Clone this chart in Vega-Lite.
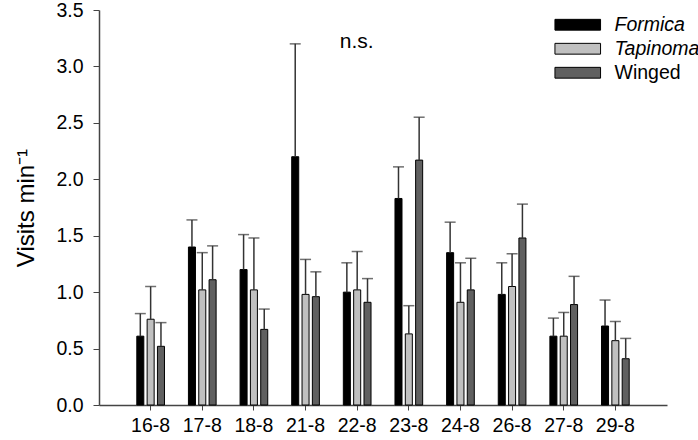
{
  "$schema": "https://vega.github.io/schema/vega-lite/v6.json",
  "width": 568,
  "height": 395,
  "autosize": {"type": "none"},
  "padding": {"left": 99, "top": 10, "right": 31, "bottom": 35},
  "background": "white",
  "config": {
    "view": {"stroke": null},
    "font": "Liberation Sans",
    "axis": {"labelFont": "Liberation Sans", "titleFont": "Liberation Sans", "labelColor": "black", "titleColor": "black", "domainColor": "#444", "tickColor": "#444", "grid": false, "titleFontWeight": "normal"}
  },
  "data": {
    "values": [
      {"date": "16-8", "group": "Formica", "value": 0.61, "upper": 0.81},
      {"date": "16-8", "group": "Tapinoma", "value": 0.76, "upper": 1.05},
      {"date": "16-8", "group": "Winged", "value": 0.52, "upper": 0.73},
      {"date": "17-8", "group": "Formica", "value": 1.40, "upper": 1.64},
      {"date": "17-8", "group": "Tapinoma", "value": 1.02, "upper": 1.35},
      {"date": "17-8", "group": "Winged", "value": 1.11, "upper": 1.41},
      {"date": "18-8", "group": "Formica", "value": 1.20, "upper": 1.51},
      {"date": "18-8", "group": "Tapinoma", "value": 1.02, "upper": 1.48},
      {"date": "18-8", "group": "Winged", "value": 0.67, "upper": 0.85},
      {"date": "21-8", "group": "Formica", "value": 2.20, "upper": 3.20},
      {"date": "21-8", "group": "Tapinoma", "value": 0.98, "upper": 1.29},
      {"date": "21-8", "group": "Winged", "value": 0.96, "upper": 1.18},
      {"date": "22-8", "group": "Formica", "value": 1.00, "upper": 1.26},
      {"date": "22-8", "group": "Tapinoma", "value": 1.02, "upper": 1.36},
      {"date": "22-8", "group": "Winged", "value": 0.91, "upper": 1.12},
      {"date": "23-8", "group": "Formica", "value": 1.83, "upper": 2.11},
      {"date": "23-8", "group": "Tapinoma", "value": 0.63, "upper": 0.88},
      {"date": "23-8", "group": "Winged", "value": 2.17, "upper": 2.55},
      {"date": "24-8", "group": "Formica", "value": 1.35, "upper": 1.62},
      {"date": "24-8", "group": "Tapinoma", "value": 0.91, "upper": 1.26},
      {"date": "24-8", "group": "Winged", "value": 1.02, "upper": 1.30},
      {"date": "26-8", "group": "Formica", "value": 0.98, "upper": 1.26},
      {"date": "26-8", "group": "Tapinoma", "value": 1.05, "upper": 1.34},
      {"date": "26-8", "group": "Winged", "value": 1.48, "upper": 1.78},
      {"date": "27-8", "group": "Formica", "value": 0.61, "upper": 0.77},
      {"date": "27-8", "group": "Tapinoma", "value": 0.61, "upper": 0.82},
      {"date": "27-8", "group": "Winged", "value": 0.89, "upper": 1.14},
      {"date": "29-8", "group": "Formica", "value": 0.70, "upper": 0.93},
      {"date": "29-8", "group": "Tapinoma", "value": 0.57, "upper": 0.74},
      {"date": "29-8", "group": "Winged", "value": 0.41, "upper": 0.59}
    ]
  },
  "encoding": {
    "x": {
      "field": "date", "type": "nominal", "sort": null,
      "scale": {"paddingInner": 0.4, "paddingOuter": 0.7},
      "axis": {"title": null, "labelAngle": 0, "labelFontSize": 19.5, "tickSize": 5, "labelPadding": 6, "domainWidth": 1.5}
    },
    "xOffset": {
      "field": "group", "type": "nominal",
      "scale": {"paddingInner": 0.32, "paddingOuter": 0.16}
    }
  },
  "layer": [
    {
      "mark": {"type": "bar", "stroke": "black", "strokeWidth": 1},
      "encoding": {
        "y": {
          "field": "value", "type": "quantitative",
          "scale": {"domain": [0, 3.5], "nice": false},
          "axis": {"title": "Visits min⁻¹", "titleFontSize": 24, "titlePadding": 17, "labelFontSize": 19.5, "format": ".1f", "values": [0, 0.5, 1, 1.5, 2, 2.5, 3, 3.5], "tickSize": 6, "labelPadding": 10, "domainWidth": 1.5}
        },
        "fill": {
          "field": "group", "type": "nominal",
          "scale": {"domain": ["Formica", "Tapinoma", "Winged"], "range": ["#000000", "#c0c0c0", "#606060"]},
          "legend": {
            "title": null, "orient": "none", "legendX": 469, "legendY": 5,
            "padding": 0,
            "symbolType": "M-3.8,-0.9H3.8V0.9H-3.8Z",
            "symbolSize": 144,
            "symbolStrokeColor": "black",
            "symbolStrokeWidth": 1,
            "symbolOpacity": 1,
            "labelOffset": 27,
            "labelFontSize": 19.5,
            "labelFont": "Liberation Sans",
            "labelColor": "black",
            "rowPadding": 3,
            "encode": {
              "labels": {"update": {"fontStyle": {"signal": "datum.value === 'Winged' ? 'normal' : 'italic'"}}},
              "symbols": {"update": {"stroke": {"value": "black"}, "strokeWidth": {"value": 1}}}
            }
          }
        }
      }
    },
    {
      "mark": {"type": "rule", "color": "#333", "strokeWidth": 1.5},
      "encoding": {
        "y": {"field": "value", "type": "quantitative"},
        "y2": {"field": "upper"}
      }
    },
    {
      "mark": {"type": "tick", "color": "#333", "thickness": 1.5, "size": 11},
      "encoding": {
        "y": {"field": "upper", "type": "quantitative"}
      }
    },
    {
      "data": {"values": [{"label": "n.s.", "d": "22-8", "v": 3.22}]},
      "mark": {"type": "text", "fontSize": 21, "font": "Liberation Sans", "color": "black", "dx": 15, "baseline": "middle"},
      "encoding": {
        "x": {"field": "d", "type": "nominal"},
        "xOffset": {"value": 0},
        "y": {"field": "v", "type": "quantitative"},
        "text": {"field": "label"}
      }
    }
  ]
}
